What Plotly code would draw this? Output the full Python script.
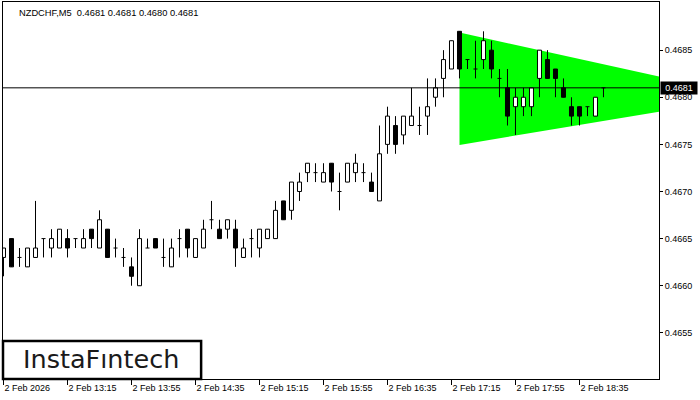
import plotly.graph_objects as go
import pandas as pd

# ---- data (NZDCHF, M5) ----
opens = [0.4663, 0.4665, 0.4663, 0.4662, 0.4663, 0.4665, 0.4664, 0.4664, 0.4665, 0.4665,
         0.4664, 0.4666, 0.4664, 0.4666, 0.4664, 0.4663, 0.4662, 0.4660, 0.4664, 0.4665,
         0.4663, 0.4662, 0.4665, 0.4666, 0.4663, 0.4664, 0.4667, 0.4666, 0.4666, 0.4666,
         0.4663, 0.4665, 0.4664, 0.4665, 0.4665, 0.4669, 0.4668, 0.4670, 0.4672, 0.4672,
         0.4671, 0.4673, 0.4670, 0.4671, 0.4672, 0.4672, 0.4671, 0.4669, 0.4675, 0.4677,
         0.4676, 0.4677, 0.4677, 0.4678, 0.4680, 0.4682, 0.4683, 0.4687, 0.4684, 0.4683,
         0.4684, 0.4685, 0.4682, 0.4681, 0.4679, 0.4679, 0.4679, 0.4682, 0.4684, 0.4683,
         0.4681, 0.4679, 0.4679, 0.4679, 0.4678, 0.4681]
highs = [0.4664, 0.4665, 0.4664, 0.4664, 0.4669, 0.4665, 0.4666, 0.4666, 0.4666, 0.4665,
         0.4666, 0.4666, 0.4668, 0.4666, 0.4665, 0.4664, 0.4663, 0.4666, 0.4665, 0.4665,
         0.4665, 0.4665, 0.4666, 0.4666, 0.4665, 0.4667, 0.4669, 0.4667, 0.4667, 0.4667,
         0.4665, 0.4666, 0.4666, 0.4666, 0.4669, 0.4669, 0.4671, 0.4672, 0.4673, 0.4673,
         0.4673, 0.4673, 0.4672, 0.4673, 0.4674, 0.4673, 0.4672, 0.4677, 0.4679, 0.4678,
         0.4678, 0.4681, 0.4679, 0.4682, 0.4682, 0.4685, 0.4686, 0.4687, 0.4684, 0.4686,
         0.4687, 0.4686, 0.4683, 0.4683, 0.4681, 0.4681, 0.4681, 0.4685, 0.4685, 0.4683,
         0.4682, 0.4680, 0.4679, 0.4679, 0.4680, 0.4681]
lows = [0.4661, 0.4662, 0.4662, 0.4662, 0.4663, 0.4663, 0.4663, 0.4664, 0.4663, 0.4664,
        0.4664, 0.4664, 0.4664, 0.4663, 0.4663, 0.4662, 0.4660, 0.4660, 0.4664, 0.4664,
        0.4662, 0.4662, 0.4663, 0.4663, 0.4663, 0.4664, 0.4666, 0.4665, 0.4665, 0.4662,
        0.4663, 0.4663, 0.4663, 0.4665, 0.4665, 0.4667, 0.4667, 0.4669, 0.4671, 0.4671,
        0.4671, 0.4670, 0.4668, 0.4671, 0.4671, 0.4671, 0.4670, 0.4669, 0.4674, 0.4674,
        0.4675, 0.4677, 0.4676, 0.4676, 0.4679, 0.4680, 0.4683, 0.4682, 0.4683, 0.4682,
        0.4683, 0.4682, 0.4680, 0.4677, 0.4676, 0.4678, 0.4678, 0.4680, 0.4682, 0.4680,
        0.4680, 0.4677, 0.4677, 0.4678, 0.4678, 0.4680]
closes = [0.4664, 0.4662, 0.4663, 0.4664, 0.4664, 0.4665, 0.4665, 0.4666, 0.4664, 0.4665,
          0.4665, 0.4665, 0.4667, 0.4663, 0.4664, 0.4663, 0.4661, 0.4665, 0.4664, 0.4664,
          0.4663, 0.4664, 0.4665, 0.4664, 0.4665, 0.4666, 0.4667, 0.4665, 0.4667, 0.4664,
          0.4664, 0.4665, 0.4666, 0.4666, 0.4668, 0.4667, 0.4671, 0.4671, 0.4673, 0.4672,
          0.4672, 0.4671, 0.4670, 0.4673, 0.4673, 0.4672, 0.4670, 0.4674, 0.4678, 0.4675,
          0.4678, 0.4678, 0.4677, 0.4679, 0.4681, 0.4684, 0.4686, 0.4683, 0.4684, 0.4683,
          0.4686, 0.4683, 0.4682, 0.4678, 0.4680, 0.4680, 0.4681, 0.4685, 0.4682, 0.4682,
          0.4680, 0.4678, 0.4678, 0.4679, 0.4680, 0.4681]

bar_times = pd.date_range("2026-02-02 12:35", periods=len(closes), freq="5min")
tick_times = ["12:35", "13:15", "13:55", "14:35", "15:15", "15:55", "16:35", "17:15", "17:55", "18:35"]
tick_labels = ["2 Feb 2026", "2 Feb 13:15", "2 Feb 13:55", "2 Feb 14:35", "2 Feb 15:15",
               "2 Feb 15:55", "2 Feb 16:35", "2 Feb 17:15", "2 Feb 17:55", "2 Feb 18:35"]
price_ticks = [0.4655, 0.4660, 0.4665, 0.4670, 0.4675, 0.4680, 0.4685]

# symmetric triangle pattern (bar index, price)
tri_bars = [57, 82, 82, 57]
tri_prices = [0.468686, 0.468219, 0.467847, 0.467494]

title_text = "NZDCHF,M5\u00a0 0.4681 0.4681 0.4680 0.4681"
logo_text = "InstaF\u0131ntech"

# ---- build ----
n = len(closes)
idx = list(range(n))
time_str = [t.strftime("%H:%M") for t in bar_times]
tickvals = [time_str.index(t) for t in tick_times]

hw = 0.25
wx, wy = [], []
for k in idx:
    wx += [k, k, None]
    wy += [lows[k], highs[k], None]

def bodies(sel):
    xs, ys = [], []
    for k in sel:
        o, c = opens[k], closes[k]
        xs += [k - hw, k + hw, k + hw, k - hw, k - hw, None]
        ys += [o, o, c, c, o, None]
    return xs, ys

bull = [k for k in idx if round(closes[k] - opens[k], 6) > 0]
bear = [k for k in idx if round(closes[k] - opens[k], 6) < 0]
doji = [k for k in idx if round(closes[k] - opens[k], 6) == 0]

fig = go.Figure()
fig.add_trace(go.Scatter(x=tri_bars, y=tri_prices, fill="toself", fillcolor="#00FF00",
                         mode="lines", line=dict(width=0, color="#00FF00"), hoverinfo="skip"))
fig.add_trace(go.Scatter(x=wx, y=wy, mode="lines", line=dict(color="black", width=1), hoverinfo="skip"))
bx, by = bodies(bull)
fig.add_trace(go.Scatter(x=bx, y=by, mode="lines", fill="toself", fillcolor="white",
                         line=dict(color="black", width=1), hoverinfo="skip"))
bx, by = bodies(bear)
fig.add_trace(go.Scatter(x=bx, y=by, mode="lines", fill="toself", fillcolor="black",
                         line=dict(color="black", width=1), hoverinfo="skip"))
dx, dy = [], []
for k in doji:
    dx += [k - hw, k + hw, None]
    dy += [opens[k], opens[k], None]
fig.add_trace(go.Scatter(x=dx, y=dy, mode="lines", line=dict(color="black", width=1), hoverinfo="skip"))

fig.add_shape(type="line", xref="paper", x0=0, x1=1, yref="y", y0=closes[-1], y1=closes[-1],
              line=dict(color="black", width=1))

# logo box
fig.add_shape(type="rect", xref="paper", yref="paper", x0=0.0, x1=0.302, y0=0.0, y1=0.101,
              line=dict(color="black", width=2.5), fillcolor="white", layer="above")
fig.add_annotation(text=logo_text, xref="paper", yref="paper", x=0.150, y=0.052,
                   xanchor="center", yanchor="middle", showarrow=False,
                   font=dict(family="DejaVu Sans", size=25.5, color="#1a1a1a"))

fig.add_annotation(text=title_text, xref="paper", yref="paper", x=0, y=1, xanchor="left",
                   yanchor="top", xshift=14, yshift=-4, showarrow=False,
                   font=dict(family="Liberation Sans", size=9.3, color="black"))

fig.add_annotation(text="{:.4f}".format(closes[-1]), xref="paper", yref="y", x=1, y=closes[-1],
                   xanchor="left", yanchor="middle", xshift=1, showarrow=False,
                   bgcolor="black", borderpad=1, width=34, height=10,
                   font=dict(family="Liberation Sans", size=9, color="white"))

fig.update_layout(width=700, height=400, margin=dict(l=3, r=41, t=2, b=21),
                  paper_bgcolor="white", plot_bgcolor="white", showlegend=False,
                  font=dict(family="Liberation Sans", size=9, color="black"))
fig.update_xaxes(range=[-0.0625, 81.94], showgrid=False, zeroline=False, showline=True,
                 linecolor="black", linewidth=1, mirror=True, ticks="outside", ticklen=5,
                 tickcolor="black", tickvals=tickvals, ticktext=tick_labels,
                 ticklabelposition="outside right", tickfont=dict(size=9))
fig.update_yaxes(range=[0.465010, 0.469011], side="right", showgrid=False, zeroline=False,
                 showline=True, linecolor="black", linewidth=1, mirror=True, ticks="outside",
                 ticklen=3, tickcolor="black", tickvals=price_ticks, tickformat=".4f",
                 tickfont=dict(size=9))

fig.write_html("out.html", config={"displayModeBar": False},
               post_script="document.body.style.margin='0';")
